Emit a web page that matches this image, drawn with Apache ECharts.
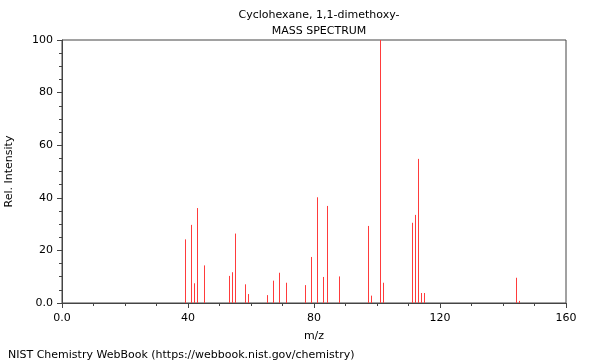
<!DOCTYPE html>
<html>
<head>
<meta charset="utf-8">
<script src="https://cdn.jsdelivr.net/npm/echarts@6/dist/echarts.min.js"></script>
<style>html,body{margin:0;padding:0;background:#fff}#c{width:600px;height:360px}</style>
</head>
<body>
<div id="c"></div>
<script>
var mz = [39,41,42,43,45,53,54,55,58,59,65,67,69,71,77,79,81,83,84,88,97,98,101,102,111,112,113,114,115,144,145];
var intensity = [24.2,29.7,7.5,36.1,14.3,10.3,11.7,26.4,7.1,3.4,3.0,8.5,11.5,7.7,6.8,17.5,40.2,9.9,36.9,10.1,29.3,2.8,100,7.7,30.5,33.5,54.8,3.8,3.8,9.6,0.8];
var xTicks = [0,40,80,120,160];
var yTicks = [0,20,40,60,80,100];
var titleText = 'Cyclohexane, 1,1-dimethoxy-';
var subText = 'MASS SPECTRUM';
var footer = 'NIST Chemistry WebBook (https://webbook.nist.gov/chemistry)';

var data = mz.map(function(m,i){return [m,intensity[i]];});
var F = 'DejaVu Sans';
var chart = echarts.init(document.getElementById('c'));
chart.setOption({
  animation:false,
  textStyle:{fontFamily:F},
  title:[
    {text:titleText, left:314, top:5, textAlign:'center', textStyle:{fontSize:11, fontWeight:'normal', color:'#000', fontFamily:F}},
    {text:subText, left:314, top:21, textAlign:'center', textStyle:{fontSize:11, fontWeight:'normal', color:'#000', fontFamily:F}},
    {text:footer, left:3, top:345, textStyle:{fontSize:11, fontWeight:'normal', color:'#000', fontFamily:F}}
  ],
  grid:{left:62, right:34, top:40, bottom:57, containLabel:false, outerBoundsMode:'none', show:true, borderColor:'#444', borderWidth:1, backgroundColor:'transparent'},
  xAxis:{type:'value', min:0, max:160, interval:40,
    name:'m/z', nameLocation:'middle', nameGap:28, nameTextStyle:{fontSize:11, color:'#000', fontFamily:F},
    axisLine:{show:true, lineStyle:{color:'#444'}},
    axisTick:{show:true, length:5, lineStyle:{color:'#444'}},
    minorTick:{show:true, splitNumber:4, length:3, lineStyle:{color:'#444'}},
    splitLine:{show:false},
    axisLabel:{fontSize:11, color:'#000', margin:10, fontFamily:F, formatter:function(v){return xTicks.indexOf(v)>=0 ? (v===0?'0.0':String(v)) : '';}}
  },
  yAxis:{type:'value', min:0, max:100, interval:20,
    name:'Rel. Intensity', nameLocation:'middle', nameGap:47, nameRotate:90, nameTextStyle:{fontSize:11, color:'#000', fontFamily:F},
    axisLine:{show:true, lineStyle:{color:'#444'}},
    axisTick:{show:true, length:5, lineStyle:{color:'#444'}},
    minorTick:{show:true, splitNumber:4, length:3, lineStyle:{color:'#444'}},
    splitLine:{show:false},
    axisLabel:{fontSize:11, color:'#000', margin:9, fontFamily:F, formatter:function(v){return yTicks.indexOf(v)>=0 ? (v===0?'0.0':String(v)) : '';}}
  },
  series:[{
    type:'custom',
    z:10,
    data:data,
    renderItem:function(params, api){
      var p0 = api.coord([api.value(0), 0]);
      var p1 = api.coord([api.value(0), api.value(1)]);
      return {type:'line', shape:{x1:Math.round(p0[0])+0.5, y1:p0[1], x2:Math.round(p1[0])+0.5, y2:p1[1]}, style:{stroke:'#ff3b3b', lineWidth:1}};
    }
  }]
});
</script>
</body>
</html>
